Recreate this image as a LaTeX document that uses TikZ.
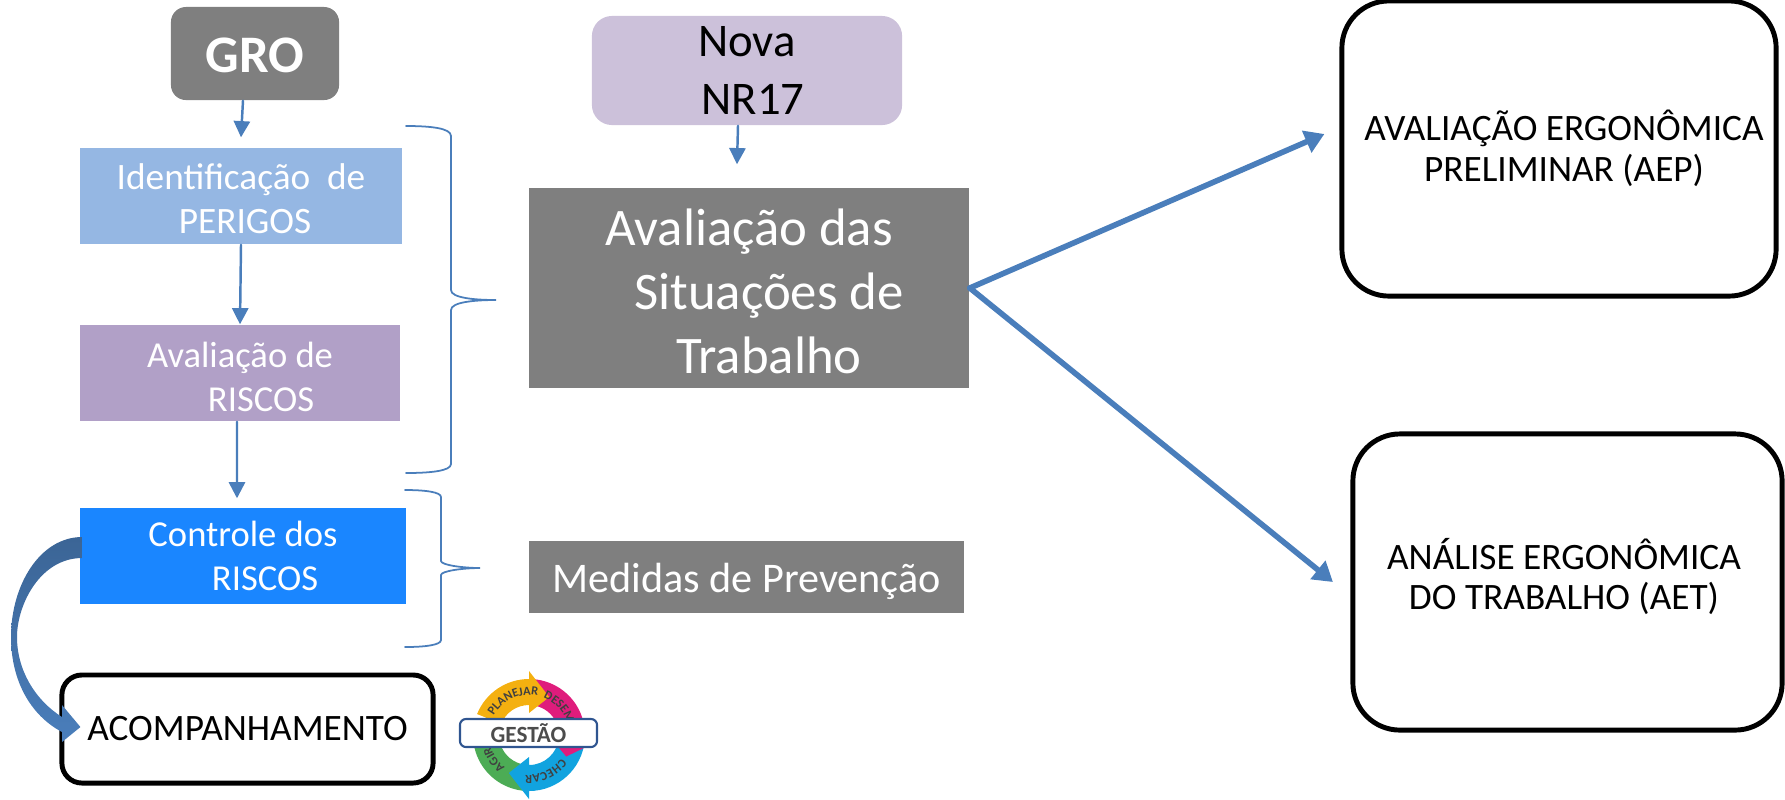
\documentclass[tikz,border=0pt]{standalone}
\usepackage{fontspec}
\setmainfont{Carlito}
\usetikzlibrary{arrows.meta,decorations.text}
\definecolor{graybox}{HTML}{7F7F7F}
\definecolor{novafill}{HTML}{CCC1DA}
\definecolor{perigofill}{HTML}{95B7E3}
\definecolor{riscofill}{HTML}{B1A0C7}
\definecolor{controlefill}{HTML}{1A86FF}
\definecolor{linkblue}{HTML}{4A7EBB}
\definecolor{gestaoborder}{HTML}{2F5590}
\definecolor{planejarfill}{HTML}{F4B010}
\definecolor{desemfill}{HTML}{DF1C7C}
\definecolor{checarfill}{HTML}{11A3DF}
\definecolor{agirfill}{HTML}{4CAC55}
\newcommand{\logofont}{\fontsize{3.5}{4}\selectfont\bfseries}
\newcommand{\pushdown}[1]{\rule{0pt}{#1}}
\newcommand{\pushup}[1]{\rule[-#1]{0pt}{#1}}
\newcommand{\gestaoseta}[4]{%
  \fill[#4] (#1:56) arc[start angle=#1, end angle=#2, radius=56]
    -- (#2:64) -- (#3:43) -- (#2:22) -- (#2:30)
    arc[start angle=#2, end angle=#1, radius=30] -- cycle;}
\tikzset{
  box/.style={inner sep=0pt, align=center},
  whitebox/.style={box, white},
  outlinebox/.style={box, draw=black, line width=1.4pt, fill=white, rounded corners=0.47cm},
  flowline/.style={linkblue, line width=0.7pt, -{Triangle[width=4.6pt,length=4.6pt]}},
  bigline/.style={linkblue, line width=1.6pt, -{Triangle[width=6.5pt,length=5.5pt]}},
  bracket/.style={linkblue, line width=0.5pt},
  arctext/.style={decorate, decoration={text along path, text align=center, text color=black!75}}
}
\begin{document}
\begin{tikzpicture}[x=0.01cm, y=-0.01cm, line cap=round]
  \useasboundingbox (0,0) rectangle (1785,799);

  % Left column
  \node[whitebox, fill=graybox, rounded corners=0.15cm, minimum width=1.68cm, minimum height=0.93cm, font=\fontsize{15}{18}\selectfont\bfseries]
    (gro) at (255,53.5) {\pushdown{11pt}GRO};
  \node[whitebox, fill=perigofill, minimum width=3.22cm, minimum height=0.96cm, font=\fontsize{10.6}{12.5}\selectfont]
    (perigos) at (241,196) {\pushdown{9pt}Identificação~~de\\\hspace*{0.08cm}PERIGOS};
  \node[whitebox, fill=riscofill, minimum width=3.2cm, minimum height=0.96cm, font=\fontsize{10.4}{12.5}\selectfont]
    (riscos) at (240,373) {\pushdown{9.5pt}Avaliação de\\\hspace*{0.42cm}RISCOS};
  \node[whitebox, fill=controlefill, minimum width=3.26cm, minimum height=0.96cm, font=\fontsize{10.4}{12.5}\selectfont]
    (controle) at (243,556) {Controle dos\\\hspace*{0.44cm}RISCOS};
  \node[outlinebox, rounded corners=0.2cm, minimum width=3.71cm, minimum height=1.08cm, font=\fontsize{10.6}{12}\selectfont]
    (acomp) at (247.5,729) {ACOMPANHAMENTO};

  % Middle column
  \node[box, fill=novafill, rounded corners=0.2cm, minimum width=3.1cm, minimum height=1.09cm, font=\fontsize{13.3}{16.5}\selectfont]
    (nova) at (747,70.5) {Nova\\\hspace*{0.12cm}NR17};
  \node[whitebox, fill=graybox, minimum width=4.4cm, minimum height=2cm, font=\fontsize{15}{18.2}\selectfont]
    (situacoes) at (749,288) {\pushdown{12.6pt}Avaliação das\\\hspace*{0.4cm}Situações de\\\hspace*{0.4cm}Trabalho};
  \node[whitebox, fill=graybox, minimum width=4.35cm, minimum height=0.72cm, font=\fontsize{12}{14}\selectfont]
    (medidas) at (746.5,577) {\pushdown{11pt}Medidas de Prevenção};

  % Right column
  \node[outlinebox, minimum width=4.34cm, minimum height=2.95cm, font=\fontsize{10.6}{11.5}\selectfont]
    (aep) at (1559,148.5) {\hspace*{0.1cm}AVALIAÇÃO ERGONÔMICA\\\hspace*{0.1cm}PRELIMINAR (AEP)};
  \node[outlinebox, minimum width=4.29cm, minimum height=2.96cm, font=\fontsize{10.6}{11.5}\selectfont]
    (aet) at (1567.5,582) {ANÁLISE ERGONÔMICA\hspace*{0.07cm}\\DO TRABALHO (AET)\hspace*{0.07cm}\pushup{4.6pt}};

  % Arrows
  \draw[flowline] ([xshift=-0.12cm]gro.south) -- ([yshift=0.1cm]perigos.north);
  \draw[flowline] (perigos.south) -- (riscos.north);
  \draw[flowline] ([xshift=-0.03cm]riscos.south) -- ([xshift=-0.06cm, yshift=0.09cm]controle.north);
  \draw[flowline] ([xshift=-0.09cm]nova.south) -- ([xshift=-0.12cm, yshift=0.23cm]situacoes.north);
  \draw[bigline] (situacoes.east) -- ([xshift=-0.15cm, yshift=0.145cm]aep.west);
  \draw[bigline] (situacoes.east) -- ([xshift=-0.175cm]aet.west);

  % Curved block arrow
  \shade[top color=black!20!linkblue, bottom color=linkblue]
    ([shift={(3,-19)}]controle.west)
    .. controls (40,537) and (11,585) .. (11,637)
    .. controls (11,680) and (30,715) .. (62,732)
    -- (62,742) -- ([shift={(21,-2)}]acomp.west) -- (62,705) -- (62,717)
    .. controls (35,700) and (17,670) .. (17,637)
    .. controls (17,605) and (40,558) .. ([shift={(3,2)}]controle.west) -- cycle;

  % Braces
  \draw[bracket] (406,126) .. controls (430,126) and (451,128) .. (451,136) -- (451,290)
    .. controls (451,298) and (475,300) .. (496,300)
    .. controls (475,300) and (451,302) .. (451,310) -- (451,464)
    .. controls (451,471) and (430,473) .. (406,473);
  \draw[bracket] (405,490) .. controls (425,490) and (441,492) .. (441,497) -- (441,561)
    .. controls (441,565) and (463,568) .. (480,568)
    .. controls (463,568) and (441,571) .. (441,575) -- (441,640)
    .. controls (441,645) and (425,647) .. (405,647);

  % Logo
  \begin{scope}[shift={(529,735)}, y=0.01cm]
    \gestaoseta{270}{178}{150}{agirfill}
    \gestaoseta{-5}{-90}{-118}{checarfill}
    \gestaoseta{88}{-8}{-30}{desemfill}
    \gestaoseta{158}{90}{62}{planejarfill}
    \path[arctext, decoration={text={|\logofont|PLANEJAR}}] (164:40) arc[start angle=164, end angle=65, radius=40];
    \path[arctext, decoration={text={|\logofont|DESEM}}] (72:40) arc[start angle=72, end angle=14, radius=40];
    \path[arctext, decoration={text={|\logofont|CHECAR}}] (-30:40) arc[start angle=-30, end angle=-102, radius=40];
    \path[arctext, decoration={text={|\logofont|AGIR}}] (245:40) arc[start angle=245, end angle=185, radius=40];
  \end{scope}
  \node[box, draw=gestaoborder, line width=0.6pt, fill=white, rounded corners=0.06cm, minimum width=1.37cm, minimum height=0.28cm, text=black!70, font=\fontsize{6.6}{7}\selectfont\bfseries]
    (gestao) at (528.5,733) {GESTÃO};
\end{tikzpicture}
\end{document}
